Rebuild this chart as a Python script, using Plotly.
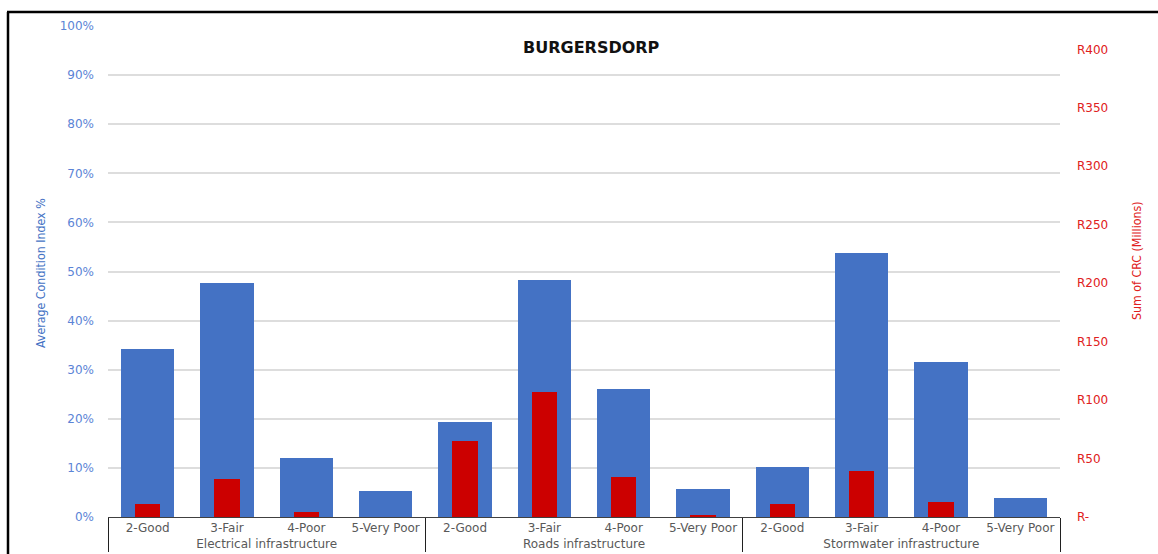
import plotly.graph_objects as go

# Condition index and replacement cost per asset group and condition grade
groups = ["Electrical infrastructure", "Roads infrastructure", "Stormwater infrastructure"]
grades = ["2-Good", "3-Fair", "4-Poor", "5-Very Poor"]

condition_pct = [
    [34.2, 47.7, 12.0, 5.2],   # Electrical
    [19.3, 48.3, 26.0, 5.8],   # Roads
    [10.2, 53.8, 31.6, 3.8],   # Stormwater
]
crc_millions = [
    [11.1, 32.5, 4.5, 0.0],    # Electrical
    [65.2, 106.8, 34.2, 1.7],  # Roads
    [11.4, 39.0, 12.8, 0.0],   # Stormwater
]

left_ticks = [0, 10, 20, 30, 40, 50, 60, 70, 80, 90, 100]
left_tick_text = ["0%", "10%", "20%", "30%", "40%", "50%", "60%", "70%", "80%", "90%", "100%"]
right_ticks = [0, 50, 100, 150, 200, 250, 300, 350, 400]
right_tick_text = ["R-", "R50", "R100", "R150", "R200", "R250", "R300", "R350", "R400"]

title_text = "BURGERSDORP"
left_title = "Average Condition Index %"
right_title = "Sum of CRC (Millions)"

BLUE = "#4472C4"
RED = "#CC0000"
TICK_BLUE = "#5B84D6"
TICK_RED = "#E02020"
GRAY_TEXT = "#595959"
WIDE_FONT = "DejaVu Sans, Verdana, sans-serif"
NARROW_FONT = "DejaVu Sans Condensed, Liberation Sans Narrow, Arial Narrow, sans-serif"

x_outer = [g for g in groups for _ in grades]
x_inner = [c for _ in groups for c in grades]
cond_flat = [v for row in condition_pct for v in row]
crc_flat = [v for row in crc_millions for v in row]

fig = go.Figure()
fig.add_trace(go.Bar(
    x=[x_outer, x_inner], y=cond_flat, name=left_title,
    marker=dict(color=BLUE, line=dict(width=0)), width=0.67, yaxis="y",
))
fig.add_trace(go.Bar(
    x=[x_outer, x_inner], y=crc_flat, name=right_title,
    marker=dict(color=RED, line=dict(width=0)), width=0.32, yaxis="y2",
))

W, H = 1158, 554
ml, mr, mt, mb = 108, 98, 26, 37
pw, ph = W - ml - mr, H - mt - mb


def px_x(p):
    return (p - ml) / pw


def px_y(p):
    return (H - mb - p) / ph


fig.update_layout(
    width=W, height=H,
    margin=dict(l=ml, r=mr, t=mt, b=mb, autoexpand=False),
    paper_bgcolor="white", plot_bgcolor="white",
    barmode="overlay", bargap=0,
    showlegend=False,
    font=dict(family=WIDE_FONT),
    xaxis=dict(
        type="multicategory", automargin=False,
        showgrid=False,
        showline=True, linecolor="#404040", linewidth=1,
        showdividers=True, dividercolor="#202020", dividerwidth=1,
        tickfont=dict(family=WIDE_FONT, size=12, color=GRAY_TEXT),
        ticks="",
    ),
    yaxis=dict(
        range=[0, 100], tickvals=left_ticks, ticktext=left_tick_text,
        automargin=False,
        tickfont=dict(family=WIDE_FONT, size=12, color=TICK_BLUE),
        showgrid=True, gridcolor="#DDDDDD", gridwidth=1.5,
        zeroline=False, showline=False, ticks="",
        ticklabelstandoff=13,
    ),
    yaxis2=dict(
        overlaying="y", side="right",
        range=[0, 420], tickvals=right_ticks, ticktext=right_tick_text,
        automargin=False,
        tickfont=dict(family=WIDE_FONT, size=12, color=TICK_RED),
        showgrid=False, zeroline=False, showline=False, ticks="",
        ticklabelstandoff=16,
    ),
    annotations=[
        dict(text="<b>" + title_text + "</b>", x=px_x(591), y=px_y(47),
             xref="paper", yref="paper", xanchor="center", yanchor="middle",
             showarrow=False,
             font=dict(family=WIDE_FONT, size=16, color="#111111")),
        # axis titles, set beside their tick labels
        dict(text=left_title, x=px_x(41), y=px_y(273),
             xref="paper", yref="paper", xanchor="center", yanchor="middle",
             textangle=-90, showarrow=False,
             font=dict(family=NARROW_FONT, size=12.3, color=BLUE)),
        dict(text=right_title, x=px_x(1137), y=px_y(261),
             xref="paper", yref="paper", xanchor="center", yanchor="middle",
             textangle=-90, showarrow=False,
             font=dict(family=NARROW_FONT, size=12.3, color=TICK_RED)),
    ],
    shapes=[
        # outer frame of the chart
        dict(type="line", xref="paper", yref="paper",
             x0=px_x(7), x1=px_x(1200), y0=px_y(12), y1=px_y(12),
             line=dict(color="black", width=2.5)),
        dict(type="line", xref="paper", yref="paper",
             x0=px_x(8), x1=px_x(8), y0=px_y(12), y1=px_y(600),
             line=dict(color="black", width=2.5)),
    ],
)

fig.write_html("out.html")
